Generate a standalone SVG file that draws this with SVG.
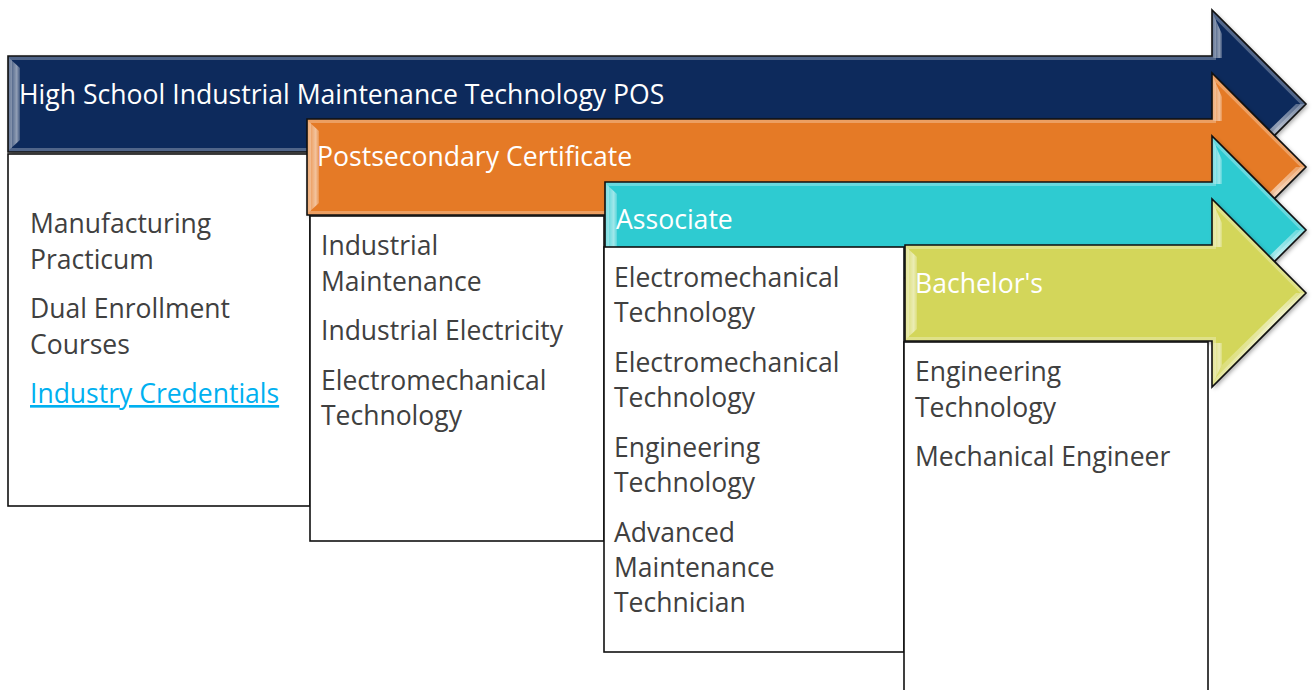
<svg xmlns="http://www.w3.org/2000/svg" xmlns:xlink="http://www.w3.org/1999/xlink" width="1312" height="690" viewBox="0 0 1312 690">
  <style>
    .edge { fill: none; stroke: #111; stroke-width: 1.6; stroke-linejoin: miter; }
    .bevel { fill: none; stroke: #fff; stroke-opacity: 0.28; stroke-width: 8; }
    .box { fill: #fff; stroke: #111; stroke-width: 1.6; }
    .head { font-family: "Open Sans", "Noto Sans", "DejaVu Sans", sans-serif; font-size: 26.6px; fill: #fff; }
    .item { font-family: "Open Sans", "Noto Sans", "DejaVu Sans", sans-serif; font-size: 26.5px; fill: #404040; }
    .link { fill: #00B0F0; text-decoration: underline; }
    .strip { fill: url(#stripGrad); }
    .navy { fill: #102B5C; }
    .orange { fill: #E57A25; }
    .cyan { fill: #2ECBD1; }
    .lime { fill: #D3D65A; }
  </style>
  <defs>
    <!-- arrow outlines: body from x0 to 1212, 96 tall, 45-degree head ending at x=1306 -->
    <polygon id="shape-hs" points="8,56 1212,56 1212,10 1306,104 1212,198 1212,152 8,152"/>
    <polygon id="shape-pc" points="307,119 1212,119 1212,73 1306,167 1212,261 1212,215 307,215"/>
    <polygon id="shape-as" points="605,182 1212,182 1212,136 1306,230 1212,324 1212,278 605,278"/>
    <polygon id="shape-ba" points="905,245 1212,245 1212,199 1306,293 1212,387 1212,341 905,341"/>
    <clipPath id="clip-hs"><use xlink:href="#shape-hs"/></clipPath>
    <clipPath id="clip-pc"><use xlink:href="#shape-pc"/></clipPath>
    <clipPath id="clip-as"><use xlink:href="#shape-as"/></clipPath>
    <clipPath id="clip-ba"><use xlink:href="#shape-ba"/></clipPath>
    <linearGradient id="stripGrad" x1="0" y1="0" x2="1" y2="0">
      <stop offset="0" stop-color="#fff" stop-opacity="0.15"/>
      <stop offset="0.7" stop-color="#fff" stop-opacity="0.55"/>
      <stop offset="1" stop-color="#fff" stop-opacity="0.2"/>
    </linearGradient>
    <filter id="shadow" x="-5%" y="-10%" width="115%" height="130%">
      <feDropShadow dx="2" dy="2" stdDeviation="2" flood-color="#000" flood-opacity="0.35"/>
    </filter>
  </defs>

  <!-- stage 1: high school -->
  <g id="arrow-high-school">
    <use xlink:href="#shape-hs" class="navy" filter="url(#shadow)"/>
    <use xlink:href="#shape-hs" class="bevel" clip-path="url(#clip-hs)"/>
    <polygon class="strip" points="9,58 20,68 20,140 9,150"/>
    <polygon class="strip" points="1213,14 1222,34 1222,58 1213,58"/>
    <polygon class="strip" points="1222,176 1296,104 1306,104 1213,196"/>
    <use xlink:href="#shape-hs" class="edge"/>
    <text class="head" x="19" y="104">High School Industrial Maintenance Technology POS</text>
  </g>
  <g id="list-high-school">
    <rect class="box" x="8" y="154" width="302" height="352"/>
    <text class="item" x="30" y="233">Manufacturing</text>
    <text class="item" x="30" y="269">Practicum</text>
    <text class="item" x="30" y="318">Dual Enrollment</text>
    <text class="item" x="30" y="354">Courses</text>
    <text class="item link" x="30" y="403">Industry Credentials</text>
  </g>

  <!-- stage 2: postsecondary certificate -->
  <g id="arrow-certificate">
    <use xlink:href="#shape-pc" class="orange" filter="url(#shadow)"/>
    <use xlink:href="#shape-pc" class="bevel" clip-path="url(#clip-pc)"/>
    <polygon class="strip" points="308,121 319,131 319,203 308,213"/>
    <polygon class="strip" points="1213,77 1222,97 1222,121 1213,121"/>
    <polygon class="strip" points="1222,239 1296,167 1306,167 1213,259"/>
    <use xlink:href="#shape-pc" class="edge"/>
    <text class="head" x="317" y="166">Postsecondary Certificate</text>
  </g>
  <g id="list-certificate">
    <rect class="box" x="310" y="216" width="294" height="325"/>
    <text class="item" x="321" y="255">Industrial</text>
    <text class="item" x="321" y="291">Maintenance</text>
    <text class="item" x="321" y="340">Industrial Electricity</text>
    <text class="item" x="321" y="390">Electromechanical</text>
    <text class="item" x="321" y="425">Technology</text>
  </g>

  <!-- stage 3: associate -->
  <g id="arrow-associate">
    <use xlink:href="#shape-as" class="cyan" filter="url(#shadow)"/>
    <use xlink:href="#shape-as" class="bevel" clip-path="url(#clip-as)"/>
    <polygon class="strip" points="606,184 617,194 617,266 606,276"/>
    <polygon class="strip" points="1213,140 1222,160 1222,184 1213,184"/>
    <polygon class="strip" points="1222,302 1296,230 1306,230 1213,322"/>
    <use xlink:href="#shape-as" class="edge"/>
    <text class="head" x="616" y="229">Associate</text>
  </g>
  <g id="list-associate">
    <rect class="box" x="604" y="247" width="300" height="405"/>
    <text class="item" x="614" y="287">Electromechanical</text>
    <text class="item" x="614" y="322">Technology</text>
    <text class="item" x="614" y="372">Electromechanical</text>
    <text class="item" x="614" y="407">Technology</text>
    <text class="item" x="614" y="457">Engineering</text>
    <text class="item" x="614" y="492">Technology</text>
    <text class="item" x="614" y="542">Advanced</text>
    <text class="item" x="614" y="577">Maintenance</text>
    <text class="item" x="614" y="612">Technician</text>
  </g>

  <!-- stage 4: bachelor's -->
  <g id="arrow-bachelor">
    <use xlink:href="#shape-ba" class="lime" filter="url(#shadow)"/>
    <use xlink:href="#shape-ba" class="bevel" clip-path="url(#clip-ba)"/>
    <polygon class="strip" points="906,247 917,257 917,329 906,339"/>
    <polygon class="strip" points="1213,203 1222,223 1222,247 1213,247"/>
    <polygon class="strip" points="1213,343 1222,343 1222,365 1213,383"/>
    <polygon class="strip" points="1222,365 1296,293 1306,293 1213,385"/>
    <use xlink:href="#shape-ba" class="edge"/>
    <text class="head" x="915" y="293">Bachelor's</text>
  </g>
  <g id="list-bachelor">
    <rect class="box" x="904" y="342" width="304" height="360"/>
    <text class="item" x="915" y="381">Engineering</text>
    <text class="item" x="915" y="417">Technology</text>
    <text class="item" x="915" y="466">Mechanical Engineer</text>
  </g>
</svg>
